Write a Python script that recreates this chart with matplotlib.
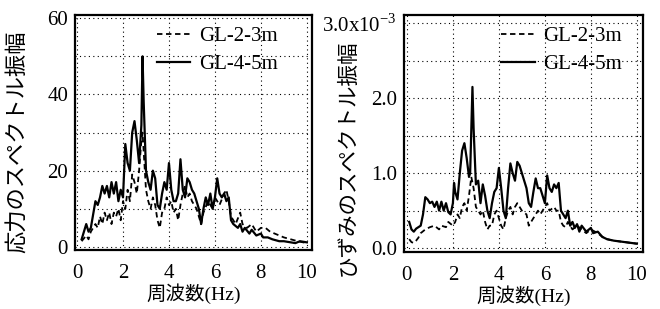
import matplotlib
matplotlib.use("Agg")
import matplotlib.pyplot as plt

plt.rcParams['font.family'] = ['Liberation Serif', 'Noto Sans CJK JP']
plt.rcParams['mathtext.fontset'] = 'custom'
plt.rcParams['mathtext.rm'] = 'Liberation Serif'

# --- data ---
# stress spectrum, GL-4-5m (solid)
f_s45 = [0.2, 0.4, 0.5, 0.6, 0.8, 0.9, 1.0, 1.1, 1.2, 1.3, 1.4, 1.5, 1.6, 1.7, 1.8, 1.9,
         2.0, 2.1, 2.2, 2.3, 2.4, 2.5, 2.6, 2.7, 2.8, 2.85, 2.9, 3.0, 3.1, 3.2, 3.3, 3.4,
         3.5, 3.6, 3.7, 3.8, 3.9, 4.0, 4.1, 4.2, 4.3, 4.4, 4.5, 4.6, 4.7, 4.8, 4.9, 5.0,
         5.1, 5.2, 5.3, 5.4, 5.5, 5.6, 5.7, 5.8, 5.9, 6.0, 6.1, 6.2, 6.3, 6.4, 6.5, 6.6,
         6.7, 6.8, 7.0, 7.1, 7.2, 7.3, 7.5, 7.6, 7.8, 8.0, 8.1, 8.3, 8.5, 8.8, 9.0, 9.3,
         9.5, 9.7, 10.0]
s45 = [2, 6, 4, 5, 12, 11, 13, 16, 14, 16, 13, 17, 14, 17, 12, 15,
       13, 27, 22, 20, 30, 33, 28, 22, 32, 50, 38, 20, 17, 15, 20, 18,
       11, 10, 14, 17, 15, 22, 15, 12, 12, 14, 23, 15, 13, 18, 17, 15,
       14, 12, 10, 6, 10, 13, 11, 14, 10, 13, 18, 14, 13, 14, 12, 13,
       7, 6, 5, 6, 4, 5, 3.5, 4.5, 3, 3.5, 2.5, 2.5, 2, 1.5, 1.5, 1.2,
       1.0, 1.5, 1.2]

# stress spectrum, GL-2-3m (dashed)
f_s23 = [0.2, 0.4, 0.5, 0.6, 0.8, 0.9, 1.0, 1.1, 1.2, 1.3, 1.4, 1.5, 1.6, 1.7, 1.8, 1.9,
         2.0, 2.1, 2.2, 2.3, 2.4, 2.5, 2.6, 2.7, 2.8, 2.85, 2.9, 3.0, 3.1, 3.2, 3.3, 3.4,
         3.5, 3.6, 3.7, 3.8, 3.9, 4.0, 4.1, 4.2, 4.3, 4.4, 4.5, 4.6, 4.7, 4.8, 4.9, 5.0,
         5.2, 5.4, 5.5, 5.7, 5.9, 6.0, 6.2, 6.4, 6.5, 6.6, 6.7, 6.9, 7.1, 7.2, 7.4, 7.6,
         7.8, 8.0, 8.2, 8.4, 8.6, 8.8, 9.0, 9.3, 9.6, 10.0]
s23 = [1.5, 3, 2, 4, 6, 5, 8, 6, 9, 7, 9, 6, 9, 8, 10, 7,
       12, 10, 15, 12, 19, 17, 14, 20, 28, 30, 25, 15, 12, 10, 13, 11,
       7, 5, 9, 10, 13, 11, 12, 9, 10, 7, 11, 14, 16, 13, 14, 12,
       10, 6, 9, 12, 10, 13, 11, 14, 15, 12, 8, 6, 9, 6, 5, 6,
       4, 5, 5, 4, 3.5, 3, 2.5, 2, 1.5, 1]

# strain spectrum (x10^-3), GL-4-5m (solid)
f_e45 = [0.1, 0.2, 0.3, 0.4, 0.6, 0.7, 0.8, 0.9, 1.0, 1.1, 1.2, 1.3, 1.4, 1.5, 1.6, 1.7,
         1.8, 1.9, 2.0, 2.05, 2.1, 2.2, 2.3, 2.4, 2.5, 2.6, 2.7, 2.75, 2.85, 2.9, 3.0, 3.1,
         3.2, 3.3, 3.4, 3.5, 3.6, 3.7, 3.8, 3.9, 4.0, 4.1, 4.2, 4.3, 4.4, 4.5, 4.6, 4.7,
         4.8, 4.9, 5.0, 5.1, 5.2, 5.3, 5.4, 5.5, 5.6, 5.7, 5.8, 5.9, 6.0, 6.1, 6.2, 6.3,
         6.4, 6.5, 6.6, 6.7, 6.8, 6.9, 7.0, 7.1, 7.2, 7.3, 7.4, 7.5, 7.6, 7.8, 8.0, 8.1,
         8.3, 8.5, 8.7, 9.0, 9.5, 10.0]
e45 = [0.35, 0.25, 0.22, 0.26, 0.3, 0.45, 0.68, 0.65, 0.6, 0.62, 0.55, 0.62, 0.5, 0.62, 0.5, 0.6,
       0.48, 0.45, 0.6, 0.87, 0.75, 0.65, 1.0, 1.3, 1.4, 1.2, 0.95, 1.0, 2.15, 1.6, 0.85, 0.9,
       0.6, 0.85, 0.7, 0.5, 0.4, 0.6, 0.75, 0.8, 1.07, 0.8, 0.5, 0.4, 0.8, 1.13, 1.0, 0.9,
       1.15, 1.1, 1.0, 0.9, 0.8, 0.6, 0.55, 0.75, 0.93, 0.8, 0.8, 0.7, 0.6, 0.97, 0.8, 0.75,
       0.85, 0.8, 0.87, 0.5, 0.45, 0.4, 0.5, 0.3, 0.35, 0.27, 0.32, 0.22, 0.3, 0.22, 0.27, 0.2,
       0.22, 0.15, 0.12, 0.1, 0.08, 0.06]

# strain spectrum (x10^-3), GL-2-3m (dashed)
f_e23 = [0.1, 0.2, 0.3, 0.4, 0.5, 0.6, 0.8, 1.0, 1.2, 1.4, 1.5, 1.7, 1.8, 2.0, 2.1, 2.2,
         2.3, 2.4, 2.5, 2.6, 2.7, 2.8, 2.9, 3.0, 3.1, 3.2, 3.3, 3.4, 3.5, 3.6, 3.7, 3.8,
         3.9, 4.0, 4.1, 4.2, 4.3, 4.4, 4.5, 4.6, 4.7, 4.8, 4.9, 5.0, 5.2, 5.3, 5.5, 5.7,
         5.8, 6.0, 6.1, 6.2, 6.4, 6.5, 6.6, 6.7, 6.8, 6.9, 7.0, 7.2, 7.4, 7.6, 7.8, 8.0,
         8.3, 8.5, 8.7, 9.0, 9.5, 10.0]
e23 = [0.12, 0.08, 0.07, 0.1, 0.14, 0.2, 0.25, 0.28, 0.3, 0.25, 0.3, 0.28, 0.35, 0.3, 0.35, 0.45,
       0.4, 0.55, 0.6, 0.5, 0.7, 0.95, 0.8, 0.55, 0.5, 0.45, 0.5, 0.35, 0.25, 0.3, 0.3, 0.45,
       0.5, 0.4, 0.3, 0.25, 0.4, 0.5, 0.55, 0.45, 0.55, 0.6, 0.55, 0.5, 0.45, 0.3, 0.4, 0.5,
       0.45, 0.55, 0.6, 0.5, 0.55, 0.5, 0.5, 0.35, 0.3, 0.28, 0.35, 0.25, 0.3, 0.25, 0.2, 0.25,
       0.2, 0.15, 0.12, 0.1, 0.08, 0.06]

x_ticks = [0, 2, 4, 6, 8, 10]
stress_ticks = [0, 10, 20, 30, 40, 50, 60]
stress_labels = ['0', '', '20', '', '40', '', '60']
strain_ticks = [0, 0.5, 1.0, 1.5, 2.0, 2.5, 3.0]
strain_labels = ['0.0', '', '1.0', '', '2.0', '', '3.0x10$^{-3}$']

fig = plt.figure(figsize=(6.6, 3.09), dpi=100)
ax1 = fig.add_axes([0.1136, 0.191, 0.359, 0.760])
ax2 = fig.add_axes([0.612, 0.184, 0.362, 0.767])

dash = (0, (3, 2))

ax1.plot(f_s23, s23, color='black', lw=1.3, linestyle=dash, label='GL-2-3m')
ax1.plot(f_s45, s45, color='black', lw=1.6, label='GL-4-5m')
ax1.set_xlim(-0.09, 10.22)
ax1.set_ylim(-0.8, 60.8)
ax1.set_yticks(stress_ticks)
ax1.set_yticklabels(stress_labels)
ax1.set_ylabel('応力のスペクトル振幅', fontsize=16)
ax1.yaxis.set_label_coords(-0.195, 0.46)

ax2.plot(f_e23, e23, color='black', lw=1.3, linestyle=dash, label='GL-2-3m')
ax2.plot(f_e45, e45, color='black', lw=1.6, label='GL-4-5m')
ax2.set_xlim(-0.13, 10.26)
ax2.set_ylim(-0.053, 3.107)
ax2.set_yticks(strain_ticks)
ax2.set_yticklabels(strain_labels)
ax2.set_ylabel('ひずみのスペクトル振幅', fontsize=15.5)
ax2.yaxis.set_label_coords(-0.19, 0.40)

for ax, anchor_x in ((ax1, 0.934), (ax2, 0.99)):
    ax.set_xticks(x_ticks)
    ax.set_xlabel('周波数(Hz)', fontsize=14, labelpad=0)
    ax.grid(True, color='black', linestyle=(0, (1, 3)), linewidth=0.8)
    ax.tick_params(length=0, labelsize=15)
    ax.tick_params(axis='x', pad=10)
    ax.tick_params(axis='y', pad=5)
    for spine in ax.spines.values():
        spine.set_linewidth(1.6)
    ax.legend(loc='upper right', bbox_to_anchor=(anchor_x, 1.03), frameon=False, fontsize=15,
              handlelength=1.6, handletextpad=0.4, labelspacing=0.4)

fig.savefig('out.png', dpi=100)
